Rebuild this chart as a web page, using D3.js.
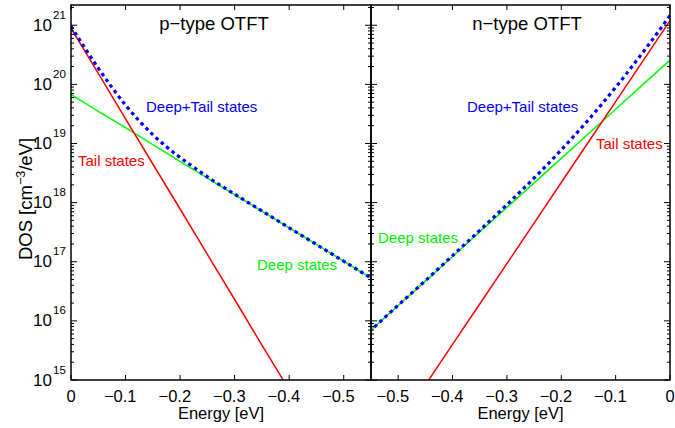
<!DOCTYPE html>
<html><head><meta charset="utf-8">
<script src="https://cdn.jsdelivr.net/npm/d3@7"></script>
<style>body{margin:0;background:#fff;} text{font-family:"Liberation Sans",Arial,sans-serif;fill:#000;}</style>
</head><body><svg id="c" width="675" height="428"></svg>
<script>
// ---- data ----
const energyGrid = [0,-0.05,-0.1,-0.15,-0.2,-0.25,-0.3,-0.35,-0.4,-0.45,-0.5,-0.55];
const sumGrid = [0,-0.025,-0.05,-0.075,-0.1,-0.125,-0.15,-0.175,-0.2,-0.225,-0.25,-0.3,-0.35,-0.4,-0.45,-0.5,-0.55];
const pTail = [8.9e20,1.53e20,2.6e19,4.5e18,7.8e17,1.33e17,2.3e16,3.9e15,6.8e14];
const pDeep = [6.8e19,3.5e19,1.85e19,9.6e18,5.0e18,2.6e18,1.37e18,7.2e17,3.75e17,1.96e17,1.02e17,5.3e16];
const pSum  = [9.6e20,4.18e20,1.88e20,8.9e19,4.45e19,2.42e19,1.41e19,8.84e18,5.8e18,3.96e18,2.73e18,1.39e18,7.24e17,3.75e17,1.96e17,1.02e17,5.3e16];
const nTail = [1.2e21,2.48e20,5.1e19,1.06e19,2.19e18,4.5e17,9.3e16,1.93e16,4.0e15,8.2e14];
const nDeep = [2.57e20,9.9e19,3.8e19,1.46e19,5.6e18,2.16e18,8.3e17,3.2e17,1.23e17,4.7e16,1.82e16,7.0e15];
const nSum  = [1.46e21,7.05e20,3.47e20,1.74e20,8.9e19,4.69e19,2.52e19,1.39e19,7.79e18,4.48e18,2.61e18,9.23e17,3.39e17,1.27e17,4.78e16,1.84e16,7.0e15];
const xTicksP = [0,-0.1,-0.2,-0.3,-0.4,-0.5];
const xTicksN = [-0.5,-0.4,-0.3,-0.2,-0.1,0];
const yTickExp = [15,16,17,18,19,20,21];
const titles = ["p\u2212type OTFT","n\u2212type OTFT"];

const svg = d3.select("#c");
const plotTop = 5, plotBottom = 380;
const y = d3.scaleLog().domain([1e15, 2.2e21]).range([plotBottom, plotTop]);

const panels = [
  {x0:71, x1:371, dom:[0,-0.55], ticks:xTicksP, tail:pTail, deep:pDeep, sum:pSum, title:titles[0], tcx:214,
   labels:[{t:"Deep+Tail states",x:146,y:112,c:"#0000ff"},{t:"Tail states",x:78,y:166,c:"#ff0000"},{t:"Deep states",x:257,y:270,c:"#00ee00"}]},
  {x0:371, x1:670, dom:[-0.55,0], ticks:xTicksN, tail:nTail, deep:nDeep, sum:nSum, title:titles[1], tcx:527,
   labels:[{t:"Deep+Tail states",x:467,y:112,c:"#0000ff"},{t:"Tail states",x:596,y:149,c:"#ff0000"},{t:"Deep states",x:378,y:243,c:"#00ee00"}]}
];

const minors = [];
for (let e=15;e<=21;e++) for (let m=2;m<=9;m++){ const v=m*Math.pow(10,e); if (v<=2.2e21) minors.push(v); }

panels.forEach((p,i)=>{
  const x = d3.scaleLinear().domain(p.dom).range([p.x0,p.x1]);
  const g = svg.append("g");
  const cid = "clip"+i;
  svg.append("clipPath").attr("id",cid).append("rect").attr("x",p.x0).attr("y",plotTop).attr("width",p.x1-p.x0).attr("height",plotBottom-plotTop);
  const line = (xs,ys)=> d3.line().x((d,k)=>x(xs[k])).y(d=>y(d))(ys);
  const lg = g.append("g").attr("clip-path",`url(#${cid})`);
  lg.append("path").attr("d",line(energyGrid,p.deep)).attr("fill","none").attr("stroke","#00ff00").attr("stroke-width",1.5);
  lg.append("path").attr("d",line(energyGrid,p.tail)).attr("fill","none").attr("stroke","#ff0000").attr("stroke-width",1.5);
  lg.append("path").attr("d",d3.line().x((d,k)=>x(sumGrid[k])).y(d=>y(d)).curve(d3.curveMonotoneX)(p.sum))
    .attr("fill","none").attr("stroke","#0000ff").attr("stroke-width",3.2).attr("stroke-dasharray","3.5,3.5");

  // ticks
  const tk = g.append("g").attr("stroke","#000").attr("stroke-width",1);
  p.ticks.forEach(v=>{
    tk.append("line").attr("x1",x(v)).attr("x2",x(v)).attr("y1",plotBottom).attr("y2",plotBottom-5);
    tk.append("line").attr("x1",x(v)).attr("x2",x(v)).attr("y1",plotTop).attr("y2",plotTop+5);
    const t = g.append("text").attr("y",401.5).attr("font-size",16.5).text(v===0?"0":"\u2212"+Math.abs(v).toFixed(1));
    if (v===0) t.attr("x",x(v)).attr("text-anchor","middle");
    else t.attr("x",x(v)+11).attr("text-anchor","end");
  });
  yTickExp.forEach(e=>{
    const yy=y(Math.pow(10,e));
    tk.append("line").attr("x1",p.x0).attr("x2",p.x0+6).attr("y1",yy).attr("y2",yy);
    tk.append("line").attr("x1",p.x1).attr("x2",p.x1-6).attr("y1",yy).attr("y2",yy);
  });
  minors.forEach(v=>{
    const yy=y(v);
    tk.append("line").attr("x1",p.x0).attr("x2",p.x0+3).attr("y1",yy).attr("y2",yy);
    tk.append("line").attr("x1",p.x1).attr("x2",p.x1-3).attr("y1",yy).attr("y2",yy);
  });
  g.append("rect").attr("x",p.x0).attr("y",plotTop).attr("width",p.x1-p.x0).attr("height",plotBottom-plotTop)
    .attr("fill","none").attr("stroke","#000").attr("stroke-width",1.5);

  g.append("text").attr("x",p.tcx).attr("y",30).attr("text-anchor","middle").attr("font-size",18.5).text(p.title);
  g.append("text").attr("x",(p.x0+p.x1)/2).attr("y",419).attr("text-anchor","middle").attr("font-size",16.5).text("Energy [eV]");
  p.labels.forEach(l=>{
    g.append("text").attr("x",l.x).attr("y",l.y).attr("font-size",15).style("fill",l.c).text(l.t);
  });
});

// y tick labels
yTickExp.forEach(e=>{
  const yy=y(Math.pow(10,e));
  svg.append("text").attr("x",52).attr("y",yy+5.5).attr("text-anchor","end").attr("font-size",17).text("10");
  svg.append("text").attr("x",53).attr("y",yy-6.5).attr("font-size",11.5).text(String(e));
});
// y axis label
const yl = svg.append("text").attr("transform","translate(32,199) rotate(-90)").attr("text-anchor","middle").attr("font-size",18.5);
yl.append("tspan").text("DOS [cm");
yl.append("tspan").attr("dy",-7).attr("font-size",12.5).text("\u22123");
yl.append("tspan").attr("dy",7).text("/eV]");
</script></body></html>
